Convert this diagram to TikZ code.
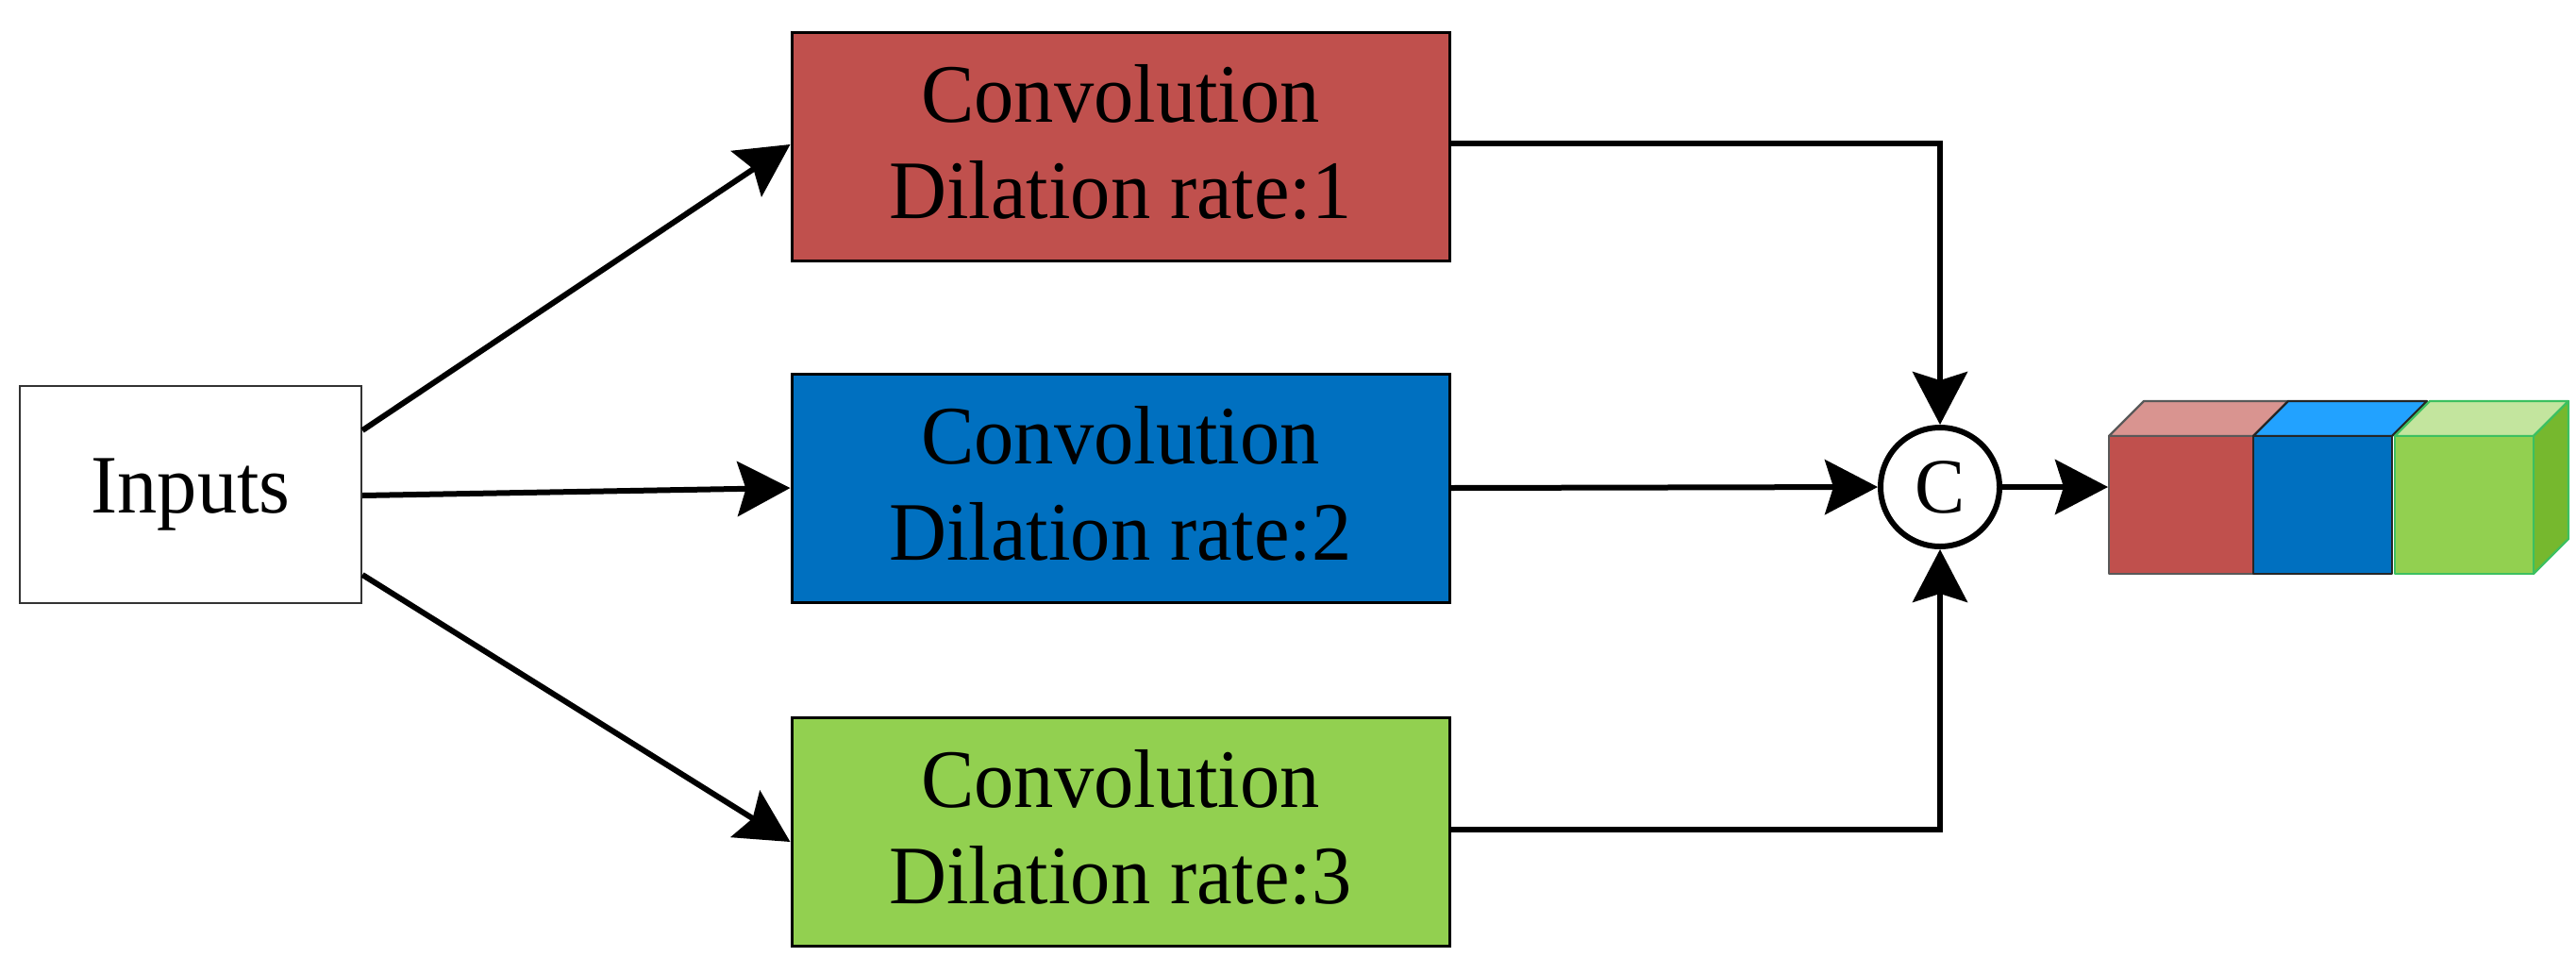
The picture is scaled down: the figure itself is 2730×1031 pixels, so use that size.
\documentclass[tikz,border=0pt]{standalone}
\usepackage{fontspec}
\setmainfont{Liberation Serif}[FakeStretch=0.96]
\usetikzlibrary{arrows.meta}
\definecolor{cred}{HTML}{C0504D}
\definecolor{cblue}{HTML}{0070C0}
\definecolor{cgreen}{HTML}{92D050}
\definecolor{credtop}{HTML}{D99490}
\definecolor{cbluetop}{HTML}{22A2FF}
\definecolor{cgreentop}{HTML}{C3E59E}
\definecolor{cgreenside}{HTML}{76B82E}
\definecolor{cgreenedge}{HTML}{3CC060}
\newcommand{\lowfix}{\rule[-10pt]{0pt}{0pt}}
\tikzset{
  lbl/.style={font=\fontsize{88pt}{102pt}\selectfont, align=center},
  convbox/.style={lbl, draw=black, line width=3pt, minimum width=697pt, minimum height=242pt, inner sep=0pt},
  inbox/.style={lbl, draw=black!80, line width=2.2pt, minimum width=362pt, minimum height=230pt, fill=white, inner sep=0pt},
  catnode/.style={circle, draw=black, line width=6pt, minimum size=126pt, inner sep=0pt, font=\fontsize{83pt}{100pt}\selectfont},
  conn/.style={line width=6pt, -{Stealth[length=56pt,width=58pt,inset=9pt]}},
  face/.style={line width=2.2pt, line join=round}
}
\begin{document}
\begin{tikzpicture}[x=1pt,y=-1pt]
\useasboundingbox (0,0) rectangle (2730,1031);
\fill[white] (0,0) rectangle (2730,1031);
\node[inbox] (in) at (202,524) {Inputs};
\node[convbox, fill=cred] (c1) at (1187.5,155) {Convolution\\Dilation rate:1\lowfix};
\node[convbox, fill=cblue] (c2) at (1187.5,517) {Convolution\\Dilation rate:2\lowfix};
\node[convbox, fill=cgreen] (c3) at (1187.5,881) {Convolution\\Dilation rate:3\lowfix};
\node[catnode] (cat) at (2056,516) {C};
\coordinate (cubein) at (2234,516);
% cubes
\draw[face, draw=black!65, fill=credtop] (2235,462) -- (2272,425) -- (2425,425) -- (2388,462) -- cycle;
\draw[face, draw=black!65, fill=cred] (2235,462) rectangle (2388,608);
\draw[face, draw=black!85, fill=cbluetop] (2388,462) -- (2425,425) -- (2572,425) -- (2535,462) -- cycle;
\draw[face, draw=black!85, fill=cblue] (2388,462) rectangle (2535,608);
\draw[face, draw=cgreenedge, fill=cgreentop] (2538,462) -- (2575,425) -- (2722,425) -- (2685,462) -- cycle;
\draw[face, draw=cgreenedge, fill=cgreenside] (2685,462) -- (2722,425) -- (2722,571) -- (2685,608) -- cycle;
\draw[face, draw=cgreenedge, fill=cgreen] (2538,462) rectangle (2685,608);
% connectors
\draw[conn] ([yshift=68pt]in.east) -- ([yshift=2pt]c1.west);
\draw[conn] ([yshift=-1pt]in.east) -- (c2.west);
\draw[conn] ([yshift=-85pt]in.east) -- ([yshift=-11pt]c3.west);
\draw[conn] ([yshift=3pt]c1.east) -| (cat.north);
\draw[conn] (c2.east) -- (cat.west);
\draw[conn] ([yshift=2pt]c3.east) -| (cat.south);
\draw[conn] (cat.east) -- (cubein);
\end{tikzpicture}
\end{document}
